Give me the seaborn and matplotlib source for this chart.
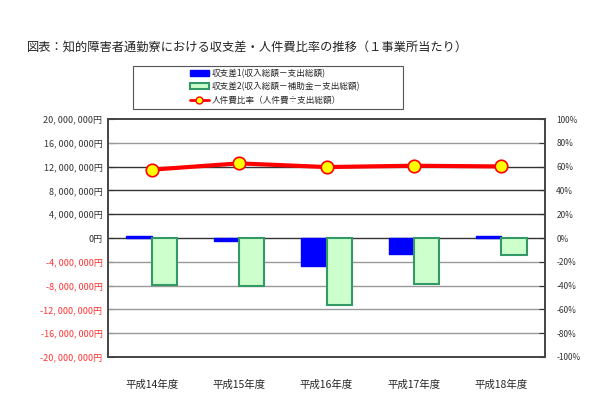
import matplotlib
matplotlib.use('Agg')
import matplotlib.pyplot as plt
import matplotlib.ticker as mticker
from matplotlib.lines import Line2D
from matplotlib.patches import Patch, Rectangle
import numpy as np
import pandas as pd
import seaborn as sns

years = ['平成14年度', '平成15年度', '平成16年度', '平成17年度', '平成18年度']
diff1 = [300000, -450000, -4700000, -2750000, 300000]      # 収支差1
diff2 = [-7950000, -8000000, -11300000, -7800000, -2800000]  # 収支差2
ratio = [57.5, 62.8, 59.7, 60.8, 60.2]                       # 人件費比率(%)

lab1 = '収支差1(収入総額－支出総額)'
lab2 = '収支差2(収入総額－補助金－支出総額)'
lab3 = '人件費比率（人件費÷支出総額）'

sns.set_style('white')
plt.rcParams['font.family'] = ['Noto Sans CJK JP', 'DejaVu Sans']

df = pd.DataFrame({'year': years * 2,
                   'value': diff1 + diff2,
                   'kind': [lab1] * 5 + [lab2] * 5})

fig = plt.figure(figsize=(6.03, 4.18), dpi=100)
ax = fig.add_axes([0.179, 0.146, 0.725, 0.569])

sns.barplot(data=df, x='year', y='value', hue='kind', ax=ax, width=0.58, gap=0,
            palette=['#0000ff', '#ccffcc'], saturation=1, legend=False, zorder=3)
for bar in ax.containers[0]:
    bar.set_edgecolor('#0000ff')
    bar.set_linewidth(1)
for bar in ax.containers[1]:
    bar.set_edgecolor('#339966')
    bar.set_linewidth(1.5)

ax.set_ylim(-20000000, 20000000)
ax.set_yticks(np.arange(-20000000, 20000001, 4000000))
ax.yaxis.set_major_formatter(mticker.FuncFormatter(
    lambda v, p: f'{v:,.0f}'.replace(',', ', ') + '円'))
ax.set_xlim(-0.5, 4.5)
ax.set_xlabel('')
ax.set_ylabel('')
ax.tick_params(axis='y', direction='in', length=4, labelsize=6.5, pad=4, color='#333333')
ax.tick_params(axis='x', length=0, labelsize=7.5, pad=16)
for t in ax.get_yticklabels():
    if t.get_position()[1] < 0:
        t.set_color('#ff3333')
    else:
        t.set_color('#333333')
for v in np.arange(-16000000, 16000001, 4000000):
    c = '#333333' if 0 <= v <= 12000000 else '#999999'
    ax.axhline(v, color=c, lw=1, zorder=1)

ax2 = ax.twinx()
sns.pointplot(x=years, y=ratio, ax=ax2, color='red', markers='o', linestyles='-',
              markersize=9, markerfacecolor='yellow', markeredgecolor='red',
              markeredgewidth=1.2, linewidth=3)
ax2.set_ylim(-100, 100)
ax2.set_yticks(np.arange(-100, 101, 20))
ax2.yaxis.set_major_formatter(mticker.FuncFormatter(lambda v, p: f'{v:.0f}%'))
ax2.tick_params(axis='y', direction='in', length=4, labelsize=6, pad=8, color='#333333',
                labelcolor='#333333')
ax2.set_xlim(-0.5, 4.5)
ax2.set_ylabel('')

for a in (ax, ax2):
    for s in a.spines.values():
        s.set_color('#444444')
        s.set_linewidth(1.2)

fig.text(0.045, 0.887, '図表：知的障害者通勤寮における収支差・人件費比率の推移（１事業所当たり）',
         fontsize=8.8, color='#222222', va='center')

fig.patches.append(Rectangle((0.221, 0.739), 0.447, 0.103, transform=fig.transFigure,
                             fill=False, edgecolor='#555555', lw=0.8))
handles = [Patch(facecolor='#0000ff', edgecolor='#0000ff'),
           Patch(facecolor='#ccffcc', edgecolor='#339966', lw=1.5),
           Line2D([], [], color='red', lw=2, marker='o', markersize=5,
                  markerfacecolor='yellow', markeredgecolor='red')]
fig.legend(handles, [lab1, lab2, lab3], loc='upper left', bbox_to_anchor=(0.305, 0.85),
           frameon=False, fontsize=6.2, handlelength=2.2, handleheight=0.6,
           labelspacing=0.5, handletextpad=0.3, borderpad=0.2)

fig.savefig('out.png', dpi=100)
